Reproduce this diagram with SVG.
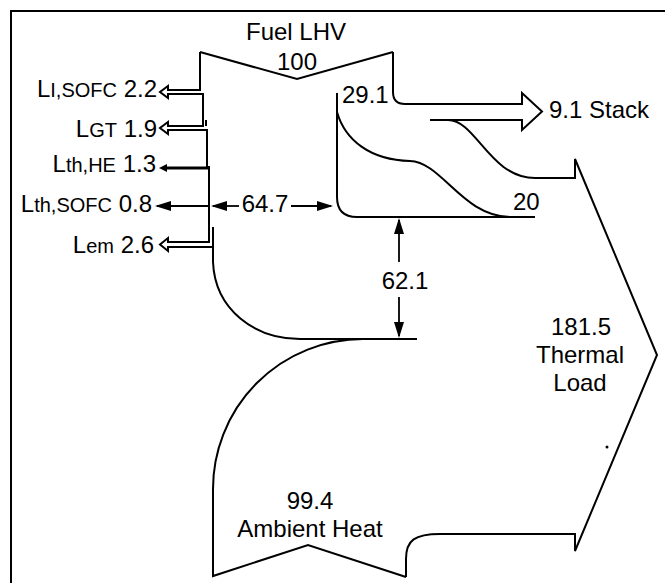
<svg xmlns="http://www.w3.org/2000/svg" width="665" height="583" viewBox="0 0 665 583">
  <style>
    .ln { fill: none; stroke: #000; stroke-width: 2; stroke-linejoin: miter; }
    .dim { fill: none; stroke: #000; stroke-width: 1.8; }
    .t { font-family: "Liberation Sans", Arial, Helvetica, sans-serif; font-size: 24px; fill: #000; }
    .s { font-size: 20px; }
    .mid { text-anchor: middle; }
    .end { text-anchor: end; }
  </style>
  <defs>
    <marker id="ah" viewBox="0 0 16 10" refX="14" refY="5" markerWidth="16" markerHeight="10" orient="auto" markerUnits="userSpaceOnUse">
      <path d="M0,0 L16,5 L0,10 z" fill="#000"/>
    </marker>
  </defs>
  <rect width="665" height="583" fill="#fff"/>

  <g id="frame">
    <path class="ln" d="M11,583 V11 H665"/>
  </g>

  <g id="fuel-input">
    <path class="ln" d="M200,52 L297,79 L393,52"/>
    <text class="t mid" x="296" y="40">Fuel LHV</text>
    <text class="t mid" x="297" y="70">100</text>
  </g>

  <g id="losses">
    <path class="ln" d="M200,52 V90 H168 L168,86 L160,92 L168,98 L168,94 H203 V126 H168 L168,122 L160,128 L168,134 L168,130 H207 V168"/>
    <path class="ln" d="M206,120 V126"/>
    <path class="ln" d="M209,166 V242 H168 L168,238 L160,244.5 L168,251 L168,247 H213 V262"/>
    <path class="ln" d="M213,227 V247"/>
    <path d="M208,168 H165" fill="none" stroke="#000" stroke-width="3"/>
    <path d="M167,164 L159,168 L167,172 z" fill="#000"/>
    <path class="dim" d="M209,206 L157,206" marker-end="url(#ah)"/>
    <text class="t end" x="157" y="97">L<tspan class="s">I,SOFC</tspan> 2.2</text>
    <text class="t end" x="157" y="137">L<tspan class="s">GT</tspan> 1.9</text>
    <text class="t end" x="156" y="172">L<tspan class="s">th,HE</tspan> 1.3</text>
    <text class="t end" x="152" y="212">L<tspan class="s">th,SOFC</tspan> 0.8</text>
    <text class="t end" x="154" y="253">L<tspan class="s">em</tspan> 2.6</text>
  </g>

  <g id="stack">
    <path class="ln" d="M393,52 V92 Q393,104 405,104 H522 V93 L542,111.5 L522,130 V120 H430"/>
    <text class="t" x="549" y="118">9.1 Stack</text>
  </g>

  <g id="heat-recovery">
    <path class="ln" d="M337,93 V197 Q337,217 357,217 H535"/>
    <path class="ln" d="M337,112 C345,140 370,160 410,161 C442,162 462,216 510,217"/>
    <text class="t" x="342" y="103">29.1</text>
    <text class="t" x="513" y="210">20</text>
  </g>

  <g id="main-stream">
    <path class="ln" d="M213,262 C215,310 255,339 300,339"/>
    <path class="ln" d="M300,339 H417"/>
  </g>

  <g id="thermal-load">
    <path class="ln" d="M448,120 C476,120 490,178 535,178 H575 V159 L657,355 L575,551 V534 H440 C415,534 406,540 406,559 V577"/>
    <circle cx="607" cy="447" r="1.5" fill="#000"/>
    <text class="t mid" x="581" y="335">181.5</text>
    <text class="t mid" x="580" y="363">Thermal</text>
    <text class="t mid" x="580" y="391">Load</text>
  </g>

  <g id="ambient-heat">
    <path class="ln" d="M406,577 L308,545 L213,576 V490 A150,150 0 0 1 363,339"/>
    <text class="t mid" x="310" y="509">99.4</text>
    <text class="t mid" x="310" y="537">Ambient Heat</text>
  </g>

  <g id="connectors">
    <path class="dim" d="M239,206 L213,206" marker-end="url(#ah)"/>
    <path class="dim" d="M291,206 L331,206" marker-end="url(#ah)"/>
    <text class="t mid" x="265" y="212">64.7</text>
    <path class="dim" d="M399,262 L399,220" marker-end="url(#ah)"/>
    <path class="dim" d="M399,297 L399,336" marker-end="url(#ah)"/>
    <text class="t mid" x="405" y="289">62.1</text>
  </g>
</svg>
